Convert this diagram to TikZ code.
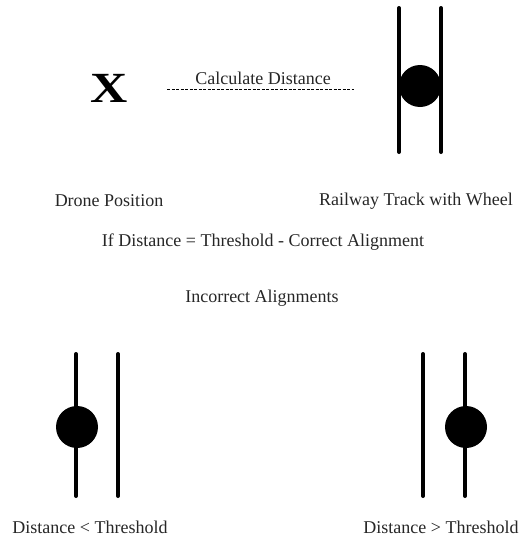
\documentclass[tikz,border=0pt]{standalone}
\usepackage{fontspec}
\setmainfont{Liberation Serif}
\begin{document}
\begin{tikzpicture}[x=1pt,y=-1pt,
  rail/.style={line width=4pt,line cap=round},
  wheel/.style={circle,fill=black,minimum size=42pt,inner sep=0pt},
  lbl/.style={font=\fontsize{18}{18}\selectfont,inner sep=0pt,text=black!85},
  dist/.style={line width=0.9pt,dash pattern=on 3pt off 1.5pt}]
\useasboundingbox (0,0) rectangle (523,549);
% top: drone and track
\node[inner sep=0pt,xscale=1.2,font=\fontsize{43}{43}\bfseries\selectfont] (drone) at (109,88) {X};
\coordinate (tlt) at (399,8); \coordinate (tlb) at (399,152);
\coordinate (trt) at (441,8); \coordinate (trb) at (441,152);
\draw[rail] (tlt) -- (tlb);
\draw[rail] (trt) -- (trb);
\node[wheel] (w1) at (420,86) {};
\coordinate (ds) at (167,89); \coordinate (de) at (354,89);
\draw[dist] (ds) -- (de);
\node[lbl] (calc) at (263,78) {Calculate Distance};
\node[lbl] (dp) at (109,201) {Drone Position};
\node[lbl] (rt) at (416,201) {Railway Track with Wheel};
\node[lbl] (cond) at (263,242) {If Distance = Threshold - Correct Alignment};
\node[lbl] (inc) at (262,298) {Incorrect Alignments};
% bottom left
\coordinate (alt) at (76,354); \coordinate (alb) at (76,496);
\coordinate (art) at (118,354); \coordinate (arb) at (118,496);
\draw[rail] (alt) -- (alb);
\draw[rail] (art) -- (arb);
\node[wheel] (w2) at (77,427) {};
\node[lbl] (lt) at (90,527) {Distance < Threshold};
% bottom right
\coordinate (blt) at (423,354); \coordinate (blb) at (423,496);
\coordinate (brt) at (465,354); \coordinate (brb) at (465,496);
\draw[rail] (blt) -- (blb);
\draw[rail] (brt) -- (brb);
\node[wheel] (w3) at (466,427) {};
\node[lbl] (gt) at (441,527) {Distance > Threshold};
\end{tikzpicture}
\end{document}
